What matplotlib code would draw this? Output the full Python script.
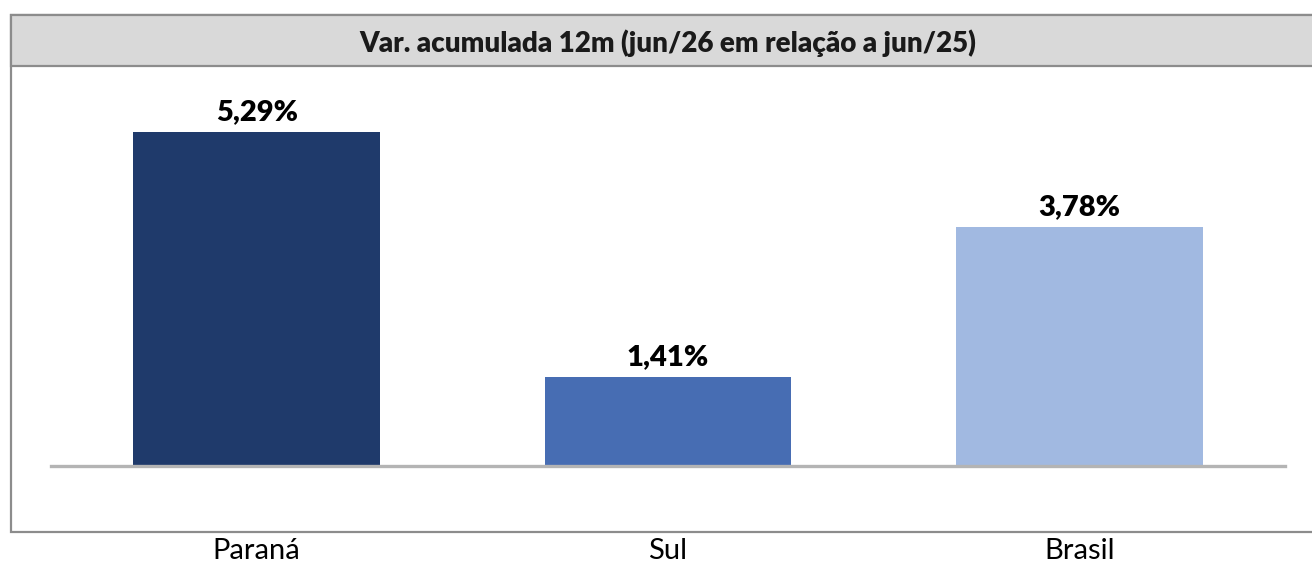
import matplotlib.pyplot as plt
from matplotlib.patches import Rectangle

categorias = ['Paraná', 'Sul', 'Brasil']
valores = [5.29, 1.41, 3.78]
rotulos = ['5,29%', '1,41%', '3,78%']
cores = ['#1f3a6b', '#476db3', '#a1b9e1']
titulo = 'Var. acumulada 12m (jun/26 em relação a jun/25)'

plt.rcParams['font.family'] = ['Lato', 'DejaVu Sans']

W, H = 1312, 563
fig = plt.figure(figsize=(W / 100, H / 100), dpi=100)

# moldura e faixa do titulo (coords em pixels -> fracao da figura)
def fx(px):
    return px / W

def fy(py):
    return 1 - py / H

fig.patches.append(Rectangle((fx(11), fy(532)), fx(1320) - fx(11), fy(15) - fy(532),
                             transform=fig.transFigure, facecolor='white',
                             edgecolor='#8c8c8c', linewidth=1.6, zorder=0))
fig.patches.append(Rectangle((fx(11), fy(66)), fx(1320) - fx(11), fy(15) - fy(66),
                             transform=fig.transFigure, facecolor='#d9d9d9',
                             edgecolor='#8c8c8c', linewidth=1.6, zorder=1))
fig.text(fx(668), fy(43), titulo, ha='center', va='center',
         fontsize=20, fontweight='heavy', color='#1a1a1a')

ax = fig.add_axes([fx(51), fy(465.6), fx(1285) - fx(51), fy(66) - fy(465.6)])
ax.set_zorder(5)
ax.patch.set_alpha(0)
x = range(len(categorias))
ax.bar(x, valores, width=0.6, color=cores, zorder=2)
for i, v in enumerate(valores):
    ax.text(i, v + 0.11, rotulos[i], ha='center', va='bottom',
            fontsize=21, fontweight='heavy', color='black')

ax.set_xlim(-0.5, 2.5)
ax.set_ylim(0, 6.34)
ax.axhline(0, color='#b4b4b4', linewidth=2.4, zorder=3, clip_on=False)
for s in ax.spines.values():
    s.set_visible(False)
ax.set_yticks([])
ax.set_xticks([])

for i, c in enumerate(categorias):
    fig.text(fx(256.5 + 411.5 * i), fy(551), c, ha='center', va='center',
             fontsize=21, color='black')

fig.savefig('out.png', dpi=100)
